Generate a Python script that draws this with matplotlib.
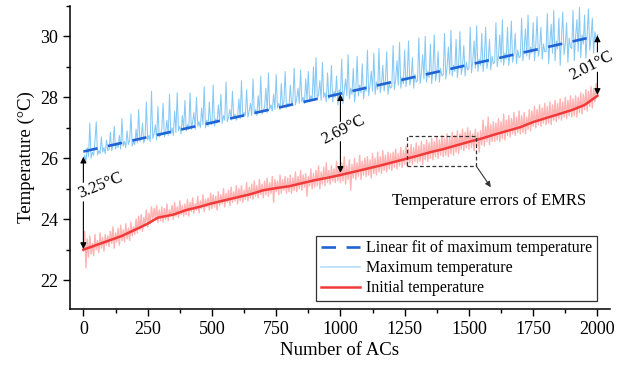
import numpy as np
import matplotlib
matplotlib.use("Agg")
import matplotlib.pyplot as plt
from matplotlib.ticker import MultipleLocator
from matplotlib.lines import Line2D

plt.rcParams['font.family'] = ['Liberation Serif', 'DejaVu Serif']
plt.rcParams['mathtext.fontset'] = 'stix'

# ---------------- data ----------------
# Maximum temperature, sampled every 5 ACs (0 ... 2000)
max_temp = [
    25.95, 26.10, 25.90, 26.35, 26.05, 27.15, 26.00, 26.20, 26.10, 26.55, 27.20, 26.10, 26.25, 26.15, 26.70, 26.20, 26.35, 26.15, 26.60, 26.25,
    26.30, 26.85, 26.25, 26.40, 27.05, 26.30, 26.50, 26.35, 26.75, 26.30, 27.30, 26.40, 26.55, 26.35, 26.90, 26.45, 26.60, 27.45, 26.40, 26.55,
    26.45, 26.95, 26.50, 27.60, 26.55, 26.70, 27.15, 26.50, 26.65, 27.85, 26.60, 26.75, 26.55, 28.20, 26.65, 26.80, 27.10, 26.60, 27.70, 26.70,
    26.75, 26.95, 27.80, 26.70, 26.85, 27.25, 26.75, 28.10, 26.80, 27.00, 26.75, 27.55, 26.85, 28.15, 26.90, 27.05, 26.80, 27.40, 26.95, 27.90,
    26.90, 27.10, 26.95, 28.15, 26.95, 27.20, 27.50, 26.95, 28.00, 27.05, 27.20, 27.00, 27.65, 27.10, 28.35, 27.00, 27.25, 27.05, 27.85, 27.15,
    27.10, 28.40, 27.05, 27.30, 27.15, 27.75, 27.20, 28.10, 27.15, 27.40, 27.25, 28.50, 27.20, 27.35, 27.60, 27.25, 28.20, 27.30, 27.45, 27.25,
    27.35, 27.95, 27.30, 28.55, 27.35, 27.50, 27.40, 28.25, 27.35, 27.55, 27.80, 27.40, 28.60, 27.45, 27.60, 27.40, 28.05, 27.50, 28.70, 27.45,
    27.55, 27.70, 28.30, 27.50, 28.80, 27.60, 27.75, 27.55, 28.10, 27.60, 28.75, 27.65, 27.80, 27.60, 28.45, 27.70, 27.85, 28.85, 27.65, 27.80,
    27.70, 28.40, 27.75, 27.90, 28.95, 27.75, 27.95, 28.30, 27.80, 28.90, 27.85, 28.00, 27.80, 28.60, 27.90, 28.85, 27.85, 28.05, 27.90, 29.00,
    27.90, 29.30, 27.95, 28.10, 28.55, 27.90, 29.15, 28.00, 28.15, 27.85, 28.80, 27.95, 28.10, 29.05, 27.85, 28.20, 28.00, 28.70, 27.75, 28.25,
    28.05, 29.25, 27.80, 28.20, 28.60, 28.05, 29.40, 27.95, 28.30, 28.10, 28.95, 27.85, 28.25, 29.35, 28.05, 28.40, 28.15, 29.10, 27.95, 28.35,
    28.20, 29.55, 28.05, 28.40, 28.85, 28.20, 29.45, 28.10, 28.50, 28.25, 29.60, 28.15, 28.45, 29.05, 28.20, 28.55, 29.50, 28.10, 28.45, 28.30,
    28.35, 29.70, 28.25, 28.60, 29.20, 28.40, 29.80, 28.30, 28.65, 28.45, 29.55, 28.35, 28.70, 29.85, 28.40, 28.60, 29.30, 28.30, 28.75, 28.50,
    28.55, 29.95, 28.45, 28.80, 29.40, 28.60, 30.00, 28.50, 28.85, 28.65, 29.75, 28.45, 28.90, 30.05, 28.55, 28.80, 29.50, 28.50, 28.95, 28.70,
    28.75, 30.10, 28.60, 29.00, 29.65, 28.75, 30.20, 28.70, 29.05, 28.85, 29.90, 28.65, 29.10, 30.15, 28.75, 29.00, 29.70, 28.70, 29.15, 28.90,
    28.95, 30.30, 28.80, 29.20, 29.85, 28.95, 30.35, 28.85, 29.25, 29.05, 30.10, 28.85, 29.30, 30.30, 28.95, 29.20, 29.90, 28.90, 29.35, 29.10,
    29.15, 30.45, 29.00, 29.40, 30.05, 29.15, 30.55, 29.05, 29.45, 29.25, 30.30, 29.05, 29.50, 30.50, 29.15, 29.40, 30.10, 29.10, 29.55, 29.30,
    29.35, 30.60, 29.20, 29.60, 30.25, 29.35, 30.70, 29.25, 29.65, 29.45, 30.45, 29.20, 29.70, 30.65, 29.35, 29.60, 30.30, 29.25, 29.75, 29.50,
    29.50, 30.75, 29.10, 29.80, 30.40, 29.45, 30.85, 29.20, 29.85, 29.60, 30.60, 29.05, 29.90, 30.80, 29.40, 29.75, 30.45, 29.15, 29.95, 29.65,
    29.60, 30.85, 29.20, 30.00, 30.55, 29.50, 30.95, 29.30, 30.05, 29.75, 30.70, 29.25, 30.10, 30.90, 29.55, 29.95, 30.60, 29.45, 30.15, 29.85,
    30.05,
]

# Temperature estimated by EMRS (pink band), sampled every 5 ACs (0 ... 2000)
emrs_temp = [
    22.95, 23.60, 22.40, 23.35, 22.75, 23.45, 22.85, 23.20, 22.80, 23.50, 23.00, 23.30, 22.90, 23.55, 23.05, 23.40, 22.95, 23.50, 23.15, 23.45,
    23.10, 23.60, 23.20, 23.75, 23.05, 23.55, 23.25, 23.70, 23.15, 23.80, 23.30, 23.65, 23.25, 23.85, 23.35, 23.70, 23.30, 23.90, 23.45, 23.75,
    23.50, 24.00, 23.55, 24.10, 23.65, 24.15, 23.60, 24.05, 23.80, 24.30, 23.75, 24.20, 23.85, 24.40, 23.95, 24.35, 24.00, 24.45, 23.90, 24.30,
    23.95, 24.40, 23.90, 24.35, 24.00, 24.50, 23.95, 24.30, 24.10, 24.45, 24.00, 24.55, 24.10, 24.40, 24.05, 24.60, 24.15, 24.45, 24.10, 24.50,
    24.15, 24.65, 24.10, 24.55, 24.25, 24.70, 24.20, 24.50, 24.30, 24.75, 24.20, 24.60, 24.35, 24.80, 24.25, 24.65, 24.40, 24.70, 24.30, 24.85,
    24.35, 24.80, 24.40, 24.75, 24.30, 24.90, 24.45, 24.80, 24.50, 25.00, 24.40, 24.85, 24.55, 24.95, 24.45, 25.05, 24.55, 24.90, 24.60, 25.10,
    24.50, 25.00, 24.60, 25.10, 24.55, 24.95, 24.65, 25.20, 24.60, 25.05, 24.70, 25.15, 24.65, 25.25, 24.75, 25.10, 24.70, 25.30, 24.80, 25.15,
    24.70, 25.25, 24.80, 25.35, 24.75, 25.20, 24.85, 25.40, 24.55, 25.30, 24.90, 25.25, 24.80, 25.45, 24.85, 25.30, 24.95, 25.40, 24.85, 25.35,
    24.90, 25.45, 24.85, 25.35, 24.95, 25.55, 24.90, 25.40, 25.00, 25.60, 24.95, 25.45, 25.05, 25.50, 24.75, 25.40, 25.10, 25.65, 25.00, 25.50,
    25.05, 25.60, 25.10, 25.75, 25.00, 25.55, 25.15, 25.70, 25.10, 25.85, 25.20, 25.60, 25.15, 25.75, 25.25, 25.65, 25.20, 25.90, 25.25, 25.70,
    25.20, 25.85, 25.25, 26.05, 25.15, 25.75, 25.30, 25.95, 24.95, 25.80, 25.35, 26.00, 25.30, 25.85, 25.40, 26.10, 25.30, 25.90, 25.45, 26.00,
    25.40, 26.05, 25.45, 25.95, 25.35, 26.15, 25.50, 26.00, 25.45, 26.20, 25.55, 26.05, 25.50, 26.25, 25.60, 26.10, 25.55, 26.20, 25.65, 26.15,
    25.60, 26.20, 25.70, 26.30, 25.65, 26.15, 25.75, 26.35, 25.70, 26.25, 25.80, 26.40, 25.75, 26.30, 25.85, 26.45, 25.80, 26.35, 25.90, 26.50,
    25.85, 26.40, 25.90, 26.55, 25.80, 26.45, 25.95, 26.60, 25.90, 26.50, 26.00, 26.65, 25.95, 26.55, 26.05, 26.70, 26.00, 26.60, 26.10, 26.75,
    26.05, 26.65, 26.10, 26.80, 26.05, 26.70, 26.15, 26.85, 26.10, 26.75, 26.20, 26.90, 26.15, 26.80, 26.30, 26.95, 26.25, 26.85, 26.35, 27.00,
    26.30, 26.90, 26.35, 26.80, 26.25, 26.95, 26.40, 26.85, 26.20, 26.90, 26.45, 27.25, 26.40, 27.05, 26.55, 27.35, 26.45, 27.10, 26.55, 27.20,
    26.55, 27.15, 26.60, 27.30, 26.55, 27.20, 26.65, 27.45, 26.60, 27.25, 26.75, 27.40, 26.70, 27.30, 26.80, 27.50, 26.75, 27.35, 26.85, 27.55,
    26.80, 27.40, 26.85, 27.50, 26.80, 27.35, 26.95, 27.60, 26.90, 27.55, 27.05, 27.70, 27.00, 27.60, 27.10, 27.75, 27.05, 27.65, 27.15, 27.80,
    27.10, 27.70, 27.15, 27.85, 27.10, 27.75, 27.25, 27.90, 27.20, 27.80, 27.30, 27.95, 27.25, 27.85, 27.35, 28.00, 27.30, 27.90, 27.40, 28.05,
    27.35, 27.95, 27.40, 28.05, 27.35, 28.00, 27.50, 28.15, 27.45, 28.10, 27.60, 28.25, 27.55, 28.20, 27.70, 28.35, 27.65, 28.30, 27.85, 28.45,
    28.10,
]

# Initial temperature (red line)
init_x = [0, 50, 100, 150, 200, 250, 290, 350, 400, 450, 500, 550, 600, 650, 700, 750, 800, 850, 900, 950,
          1000, 1050, 1100, 1150, 1200, 1250, 1300, 1350, 1400, 1450, 1500, 1550, 1600, 1650, 1700, 1750,
          1800, 1850, 1900, 1950, 2000]
init_temp = [23.00, 23.15, 23.30, 23.45, 23.65, 23.85, 24.05, 24.15, 24.30, 24.40, 24.52, 24.62, 24.72, 24.82,
             24.95, 25.02, 25.08, 25.18, 25.28, 25.36, 25.45, 25.55, 25.65, 25.75, 25.86, 25.97, 26.08, 26.20,
             26.30, 26.42, 26.54, 26.65, 26.78, 26.90, 27.02, 27.19, 27.32, 27.45, 27.58, 27.75, 28.05]

# Linear fit of maximum temperature (end points)
fit_x = [0, 2000]
fit_temp = [26.22, 30.02]

# Gap annotations
gap_x = [0, 1000, 2000]
gap_top = [26.05, 28.10, 30.03]
gap_bottom = [23.02, 25.52, 28.08]
gap_labels = ["3.25°C", "2.69°C", "2.01°C"]
gap_label_x = [68, 1010, 1975]
gap_label_y = [25.12, 26.92, 29.05]
gap_rotation = [22, 27, 27]

x_ticks = [0, 250, 500, 750, 1000, 1250, 1500, 1750, 2000]
y_ticks = [22, 24, 26, 28, 30]

# ---------------- figure ----------------
serif = ['Liberation Serif', 'DejaVu Serif']
c_fit, c_max, c_init, c_emrs = '#1f63d4', '#86c9f5', '#f03a3a', '#ffb3b3'
fit_ls = (0, (5.5, 4))

fig = plt.figure(figsize=(6.28, 3.71), dpi=100)
ax = fig.add_axes([0.1115, 0.167, 0.8595, 0.817])

x_max = np.linspace(0, 2000, len(max_temp))
x_emrs = np.linspace(0, 2000, len(emrs_temp))

ax.plot(x_emrs, emrs_temp, color=c_emrs, lw=1.0, zorder=2)
ax.plot(init_x, init_temp, color=c_init, lw=1.8, zorder=3)
ax.plot(x_max, max_temp, color=c_max, lw=0.75, zorder=2)
ax.plot(fit_x, fit_temp, color=c_fit, lw=1.9, ls=fit_ls, zorder=4)

# gap arrows and labels
for gx, gt, gb, lab, lx, ly, rot in zip(gap_x, gap_top, gap_bottom, gap_labels,
                                        gap_label_x, gap_label_y, gap_rotation):
    ax.annotate('', xy=(gx, gt), xytext=(gx, gb),
                arrowprops=dict(arrowstyle='<|-|>', color='black', lw=0.8,
                                shrinkA=0, shrinkB=0, mutation_scale=9), zorder=5)
    ax.text(lx, ly, lab, rotation=rot, ha='center', va='center', fontsize=12,
            family=serif, rotation_mode='anchor',
            bbox=dict(facecolor='white', edgecolor='none', pad=0.5), zorder=6)

# dashed box for EMRS errors
ax.add_patch(plt.Rectangle((1258, 25.75), 270, 0.98, fill=False, ec='#333333', lw=0.9,
                           ls=(0, (3, 2)), zorder=6))
ax.annotate('', xy=(1585, 25.05), xytext=(1528, 25.75),
            arrowprops=dict(arrowstyle='-|>', color='#333333', lw=0.8,
                            shrinkA=0, shrinkB=0, mutation_scale=8), zorder=6)
ax.text(1580, 24.6, 'Temperature errors of EMRS', ha='center', va='center', fontsize=12,
        family=serif)

ax.set_xlim(-52, 2048)
ax.set_ylim(21.05, 31.0)
ax.set_xticks(x_ticks)
ax.set_yticks(y_ticks)
ax.xaxis.set_minor_locator(MultipleLocator(125))
ax.yaxis.set_minor_locator(MultipleLocator(1))
ax.tick_params(axis='both', which='major', direction='out', length=5, width=1, labelsize=13)
ax.tick_params(axis='both', which='minor', direction='out', length=3, width=1)
for s in ['top', 'right']:
    ax.spines[s].set_visible(False)
for s in ['left', 'bottom']:
    ax.spines[s].set_linewidth(1.1)

ax.set_xlabel('Number of ACs', fontsize=13.5, labelpad=3)
ax.set_ylabel('Temperature (°C)', fontsize=13.5, labelpad=4)

legend_handles = [
    Line2D([], [], color=c_fit, lw=1.9, ls=fit_ls),
    Line2D([], [], color='#b5defa', lw=1.2),
    Line2D([], [], color=c_init, lw=1.8),
]
legend_labels = ['Linear fit of maximum temperature', 'Maximum temperature', 'Initial temperature']
leg = ax.legend(legend_handles, legend_labels,
                loc='lower right', bbox_to_anchor=(0.976, 0.026), borderaxespad=0,
                fontsize=11.5, frameon=True, fancybox=False, edgecolor='black',
                handlelength=2.4, handletextpad=0.4, labelspacing=0.25, borderpad=0.3)
leg.get_frame().set_linewidth(0.9)

fig.savefig('out.png', dpi=100)
